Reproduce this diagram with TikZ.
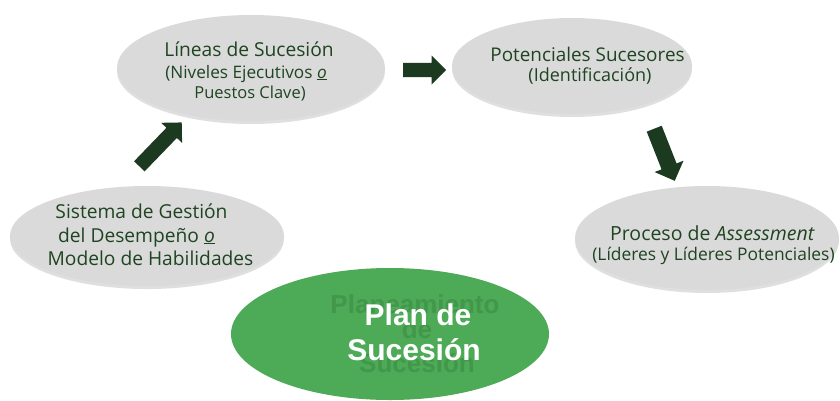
\documentclass[tikz,border=0pt]{standalone}
\usepackage{fontspec}
\setmainfont{Open Sans}
\newfontfamily\boldsans{Liberation Sans}
\usetikzlibrary{shapes.geometric,shapes.arrows,shadows}
\definecolor{bubble}{HTML}{DADADA}
\definecolor{plangreen}{HTML}{4DAA57}
\definecolor{ghostgreen}{HTML}{42974B}
\definecolor{txtgreen}{HTML}{1F4421}
\definecolor{arrowgreen}{HTML}{1B3A1F}
\tikzset{
  bubblebox/.style={ellipse, fill=bubble, draw=none, inner sep=0pt,
    drop shadow={opacity=0.25, shadow xshift=0pt, shadow yshift=-3pt}},
  txt/.style={text=txtgreen, font=\fontsize{#1}{22}\selectfont, inner sep=0pt, anchor=base},
  ghost/.style={text=ghostgreen, font=\boldsans\bfseries\fontsize{26}{30}\selectfont, inner sep=0pt, anchor=base},
  plantext/.style={text=white, font=\boldsans\bfseries\fontsize{30}{35}\selectfont, inner sep=0pt, anchor=base},
  blockarrow/.style={single arrow, fill=arrowgreen, draw=none, inner xsep=0pt,
    single arrow head indent=0pt},
}
\newcommand{\uo}{\underline{\textit{o}}}
\begin{document}
\begin{tikzpicture}[x=1pt,y=-1pt]
\useasboundingbox (0,0) rectangle (840,400);
\fill[white] (0,0) rectangle (840,400);

% ellipses
\node[bubblebox, minimum width=268pt, minimum height=106pt] (lin) at (251,68) {};
\node[bubblebox, minimum width=240pt, minimum height=96pt] (pot) at (572,66) {};
\node[bubblebox, minimum width=274pt, minimum height=100pt] (sis) at (147,236) {};
\node[bubblebox, minimum width=264pt, minimum height=104pt] (pro) at (707,238) {};
\node[ellipse, fill=plangreen, draw=none, inner sep=0pt,
      minimum width=318pt, minimum height=132pt] (plan) at (390,334) {};

% texts
\node[txt=19.2] (lin1) at (249,56) {Líneas de Sucesión};
\node[txt=17.2] (lin2) at (246,78) {(Niveles Ejecutivos \uo};
\node[txt=16.5] (lin3) at (250,98) {Puestos Clave)};

\node[txt=18.9] (pot1) at (587.5,61) {Potenciales Sucesores};
\node[txt=18] (pot2) at (590,81) {(Identificación)};

\node[txt=19.2] (sis1) at (141.5,218) {Sistema de Gestión};
\node[txt=19.2] (sis2) at (136.5,242) {del Desempeño \uo};
\node[txt=19.2] (sis3) at (150.5,265) {Modelo de Habilidades};

\node[txt=19.5] (pro1) at (712.5,240) {Proceso de \textit{Assessment}};
\node[txt=17.4] (pro2) at (713.5,260) {(Líderes y Líderes Potenciales)};

% ghost text behind
\node[ghost] (gh1) at (415,313) {Planeamiento};
\node[ghost] (gh2) at (417,338) {de};
\node[ghost] (gh3) at (417,372) {Sucesión};

\node[plantext] (pl1) at (418,325) {Plan de};
\node[plantext] (pl2) at (414,360) {Sucesión};

% block arrows
\node[blockarrow, inner ysep=6.5pt, minimum width=29pt, minimum height=43pt] (a1) at (421,70) {};
\node[blockarrow, inner ysep=7pt, minimum width=29pt, minimum height=61pt, rotate=46] (a2) at (158,147) {};
\node[blockarrow, inner ysep=7.5pt, minimum width=31pt, minimum height=56pt, rotate=-68.5] (a3) at (663,151) {};
\end{tikzpicture}
\end{document}
